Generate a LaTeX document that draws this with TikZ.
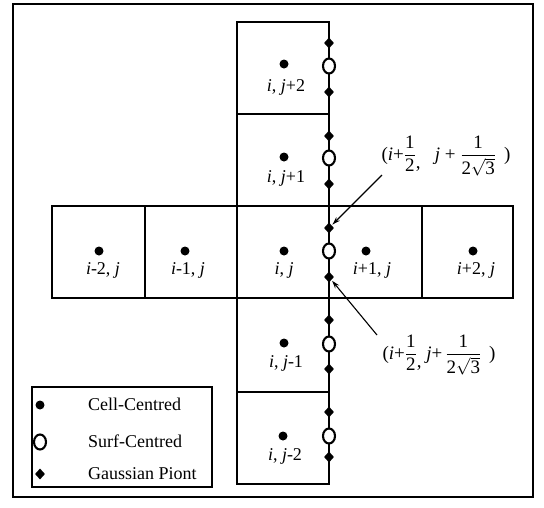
\documentclass[tikz,border=0pt]{standalone}
\usepackage{fontspec}
\setmainfont{Liberation Serif}
\usepackage{amsmath}
\usetikzlibrary{shapes.geometric,arrows.meta}
\begin{document}
\begin{tikzpicture}[x=1pt,y=-1pt,
  cellline/.style={line width=2pt},
  cdot/.style={circle,fill=black,inner sep=0pt,minimum size=9pt},
  sdot/.style={ellipse,draw=black,line width=2.1pt,fill=white,inner sep=0pt,minimum width=12pt,minimum height=15pt},
  gdot/.style={diamond,fill=black,inner sep=0pt,minimum width=10pt,minimum height=11pt},
  lab/.style={font=\fontsize{18pt}{21pt}\selectfont,inner sep=0pt},
  flab/.style={font=\fontsize{19pt}{22pt}\selectfont,inner sep=0pt},
  arr/.style={line width=1.1pt,-{Stealth[length=8pt,width=5pt]},shorten >=1pt}]
\useasboundingbox (0,0) rectangle (544,507);
\node[draw=black,line width=2.4pt,minimum width=520pt,minimum height=493pt,inner sep=0pt] (frame) at (273,250.5) {};
% column cells
\draw[cellline] (237,22) rectangle (329,114);
\draw[cellline] (237,114) rectangle (329,206);
\draw[cellline] (237,298) rectangle (329,392);
\draw[cellline] (237,392) rectangle (329,484);
% row cells
\draw[cellline] (52,206) rectangle (145,298);
\draw[cellline] (145,206) rectangle (237,298);
\draw[cellline] (237,206) rectangle (329,298);
\draw[cellline] (329,206) rectangle (422,298);
\draw[cellline] (422,206) rectangle (513,298);
% cell centres and labels
\node[cdot] (c1) at (284,64) {};
\node[lab] (t1) at (286,87) {\textit{i}, \textit{j}+2};
\node[cdot] (c2) at (284,157) {};
\node[lab] (t2) at (286,178) {\textit{i}, \textit{j}+1};
\node[cdot] (c3) at (99,251) {};
\node[lab] (t3) at (103,270) {\textit{i}-2, \textit{j}};
\node[cdot] (c4) at (185,251) {};
\node[lab] (t4) at (188,270) {\textit{i}-1, \textit{j}};
\node[cdot] (c5) at (284,251) {};
\node[lab] (t5) at (284,270) {\textit{i}, \textit{j}};
\node[cdot] (c6) at (366,251) {};
\node[lab] (t6) at (372,270) {\textit{i}+1, \textit{j}};
\node[cdot] (c7) at (473,251) {};
\node[lab] (t7) at (476,270) {\textit{i}+2, \textit{j}};
\node[cdot] (c8) at (284,343) {};
\node[lab] (t8) at (286,363) {\textit{i}, \textit{j}-1};
\node[cdot] (c9) at (283,436) {};
\node[lab] (t9) at (285,456) {\textit{i}, \textit{j}-2};
% surface and gaussian points
\node[sdot] (s1) at (329,66) {};
\node[gdot] (g1) at (329,43) {};
\node[gdot] (g2) at (329,92) {};
\node[sdot] (s2) at (329,158) {};
\node[gdot] (g3) at (329,136) {};
\node[gdot] (g4) at (329,184) {};
\node[sdot] (s3) at (329,251) {};
\node[gdot] (g5) at (329,228) {};
\node[gdot] (g6) at (329,277) {};
\node[sdot] (s4) at (329,344) {};
\node[gdot] (g7) at (329,320) {};
\node[gdot] (g8) at (329,369) {};
\node[sdot] (s5) at (329,436) {};
\node[gdot] (g9) at (329,412) {};
\node[gdot] (g10) at (329,457) {};
% annotations
\node[flab] (la) at (446,156) {(\textit{i}+$\dfrac{\text{1}}{\text{2}}$\raisebox{-8pt}{,}\ \ \ \textit{j} + $\dfrac{\text{1}}{\text{2}\sqrt{\text{3}}}$\, )};
\node[flab] (lb) at (439,355) {(\textit{i}+$\dfrac{\text{1}}{\text{2}}$\raisebox{-8pt}{,}\ \textit{j}+\,$\dfrac{\text{1}}{\text{2}\sqrt{\text{3}}}$\, )};
\coordinate (a1) at (382,175);
\coordinate (a2) at (377,335);
\draw[arr] (a1) -- (g5);
\draw[arr] (a2) -- (g6);
% legend
\node[draw=black,line width=1.5pt,minimum width=180pt,minimum height=100pt,inner sep=0pt] (legend) at (122,437) {};
\node[cdot] (k1) at (40,405) {};
\node[lab,anchor=west] (k1t) at (88,404) {Cell-Centred};
\node[sdot] (k2) at (40,442) {};
\node[lab,anchor=west] (k2t) at (88,441) {Surf-Centred};
\node[gdot] (k3) at (40,474) {};
\node[lab,anchor=west] (k3t) at (88,474) {Gaussian Piont};
\end{tikzpicture}
\end{document}
